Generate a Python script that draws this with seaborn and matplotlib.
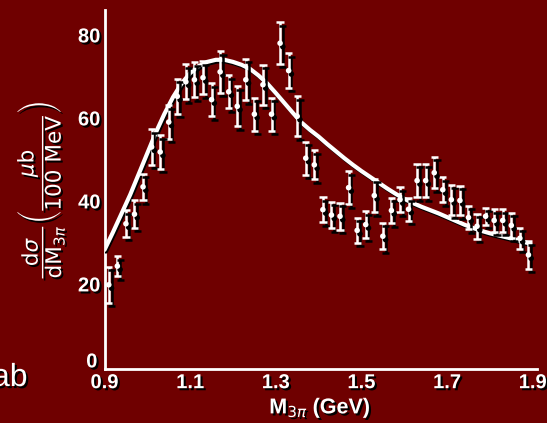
import matplotlib
matplotlib.use("Agg")
import matplotlib.pyplot as plt
import matplotlib.patheffects as pe
import matplotlib.transforms as mtrans
import seaborn as sns
import numpy as np
import pandas as pd

# ---- data ----
mass = [0.91, 0.93, 0.95, 0.97, 0.99, 1.01, 1.03, 1.05, 1.07, 1.09,
        1.11, 1.13, 1.15, 1.17, 1.19, 1.21, 1.23, 1.25, 1.27, 1.29,
        1.31, 1.33, 1.35, 1.37, 1.39, 1.41, 1.43, 1.45, 1.47, 1.49,
        1.51, 1.53, 1.55, 1.57, 1.59, 1.61, 1.63, 1.65, 1.67, 1.69,
        1.71, 1.73, 1.75, 1.77, 1.79, 1.81, 1.83, 1.85, 1.87, 1.89]
xsec = [19.8, 24.3, 34.5, 36.8, 43.4, 53.0, 51.8, 59.0, 65.2, 68.7,
        69.2, 69.7, 64.4, 71.1, 66.3, 62.8, 69.2, 60.9, 68.0, 60.9,
        78.0, 71.4, 60.4, 50.3, 48.7, 37.9, 36.6, 36.3, 43.2, 32.9,
        34.3, 41.3, 31.5, 37.7, 40.3, 38.0, 44.9, 44.9, 46.8, 42.7,
        40.3, 40.1, 36.0, 33.9, 36.3, 35.3, 35.3, 34.1, 31.0, 27.0]
yerr = [4.3, 2.4, 3.2, 3.3, 3.2, 4.3, 4.0, 4.0, 4.2, 4.2,
        4.2, 4.0, 4.0, 5.0, 4.0, 4.8, 5.0, 4.0, 4.8, 4.0,
        5.0, 4.2, 4.8, 4.0, 3.5, 3.0, 3.2, 3.2, 4.0, 3.0,
        3.2, 4.0, 3.2, 3.1, 3.0, 2.8, 4.0, 4.0, 3.8, 3.0,
        3.6, 3.6, 2.8, 3.0, 2.0, 2.7, 2.7, 3.0, 2.5, 3.3]

curve_x = [0.90, 0.92, 0.94, 0.96, 0.98, 1.00, 1.02, 1.04, 1.06, 1.08,
           1.10, 1.12, 1.14, 1.16, 1.18, 1.20, 1.22, 1.24, 1.26, 1.28,
           1.30, 1.32, 1.34, 1.36, 1.38, 1.40, 1.42, 1.44, 1.46, 1.48,
           1.50, 1.52, 1.54, 1.56, 1.58, 1.60, 1.62, 1.64, 1.66, 1.68,
           1.70, 1.72, 1.74, 1.76, 1.78, 1.80, 1.82, 1.84, 1.86, 1.88,
           1.895]
curve_y = [28.2, 32.5, 37.0, 41.5, 46.5, 51.5, 56.5, 61.0, 65.0, 68.3,
           70.8, 72.5, 73.5, 74.0, 74.0, 73.5, 72.8, 71.8, 70.2, 68.3,
           66.0, 63.6, 61.2, 58.9, 57.1, 55.5, 53.7, 52.0, 50.3, 48.7,
           47.2, 45.8, 44.4, 43.0, 41.7, 40.5, 39.5, 38.6, 37.8, 37.0,
           36.1, 35.2, 34.3, 33.5, 32.8, 32.2, 31.7, 31.2, 30.7, 30.1,
           29.7]

xticks = [0.9, 1.1, 1.3, 1.5, 1.7, 1.9]
xtick_labels = ["0.9", "1.1", "1.3", "1.5", "1.7", "1.9"]
yticks = [0, 20, 40, 60, 80]
ytick_labels = ["0", "20", "40", "60", "80"]

BG = "#6f0000"
sns.set_theme(style="white")
plt.rcParams["font.family"] = ["Liberation Sans", "DejaVu Sans"]
plt.rcParams["mathtext.fontset"] = "dejavusans"

W, H = 547, 423
fig = plt.figure(figsize=(W / 100, H / 100), dpi=100, facecolor=BG)
ax = fig.add_axes([104.5 / W, (H - 369) / H, (537 - 104.5) / W, (369 - 10) / H])
ax.set_facecolor(BG)

line_shadow = [pe.SimpleLineShadow(offset=(2, -2.5), shadow_color="black", alpha=1.0),
               pe.Normal()]
patch_shadow = [pe.SimplePatchShadow(offset=(2, -2.5), shadow_rgbFace="black", alpha=1.0),
                pe.Normal()]
text_shadow = [pe.SimplePatchShadow(offset=(1.5, -1.5), shadow_rgbFace="black", alpha=1.0),
               pe.Normal()]

# theory curve
curve_df = pd.DataFrame({"m": curve_x, "s": curve_y})
sns.lineplot(data=curve_df, x="m", y="s", ax=ax, color="white", lw=3.0, zorder=3)
ax.lines[-1].set_path_effects([pe.SimpleLineShadow(offset=(1.0, -1.2), shadow_color="black", alpha=1.0),
                               pe.Normal()])
ax.lines[-1].set_solid_capstyle("round")
ax.lines[-1].set_solid_joinstyle("round")

# error bars
eb = ax.errorbar(mass, xsec, yerr=yerr, fmt="none", ecolor="white",
                 elinewidth=1.8, capsize=2.6, capthick=1.8, zorder=4)
for cl in eb[1]:
    cl.set_path_effects(line_shadow)
for bc in eb[2]:
    bc.set_path_effects(line_shadow)

# data points
pts = pd.DataFrame({"m": mass, "s": xsec})
sns.scatterplot(data=pts, x="m", y="s", ax=ax, color="white", s=16,
                linewidth=0, zorder=5)
ax.collections[-1].set_path_effects(patch_shadow)

ax.set_xlim(0.9, 1.91)
ax.set_ylim(-0.5, 86)
ax.set_xticks(xticks)
ax.set_xticklabels(xtick_labels)
ax.set_yticks(yticks)
ax.set_yticklabels(ytick_labels)
ax.set_xlabel("")
ax.set_ylabel("")

for s in ["top", "right"]:
    ax.spines[s].set_visible(False)
for s in ["left", "bottom"]:
    ax.spines[s].set_color("white")
    ax.spines[s].set_linewidth(2)

ax.tick_params(direction="in", length=7, width=2, colors="white",
               labelsize=14.5, pad=3)
for lab in ax.get_xticklabels() + ax.get_yticklabels():
    lab.set_fontweight("bold")
    lab.set_path_effects(text_shadow)

# the "0" on the y axis sits a little above the x-axis labels in the reference
zero_lab = ax.get_yticklabels()[0]
zero_lab.set_transform(zero_lab.get_transform() +
                       mtrans.ScaledTranslation(-3 / 100, 7 / 100, fig.dpi_scale_trans))

fig.text(41 / W, 1 - 190 / H,
         r"$\dfrac{\mathrm{d}\sigma}{\mathrm{dM}_{3\pi}}\left(\dfrac{\mu\mathrm{b}}{100\ \mathrm{MeV}}\right)$",
         rotation=90, ha="center", va="center", color="white", fontsize=15.5,
         path_effects=text_shadow)
fig.text(320 / W, 1 - 408 / H, r"M$_{3\pi}$ (GeV)", ha="center", va="center",
         color="white", fontsize=15.5, fontweight="bold", path_effects=text_shadow)
fig.text(-8 / W, 1 - 386 / H, "ab", ha="left", va="baseline", color="white",
         fontsize=23, path_effects=text_shadow)

fig.savefig("out.png", dpi=100, facecolor=BG)
